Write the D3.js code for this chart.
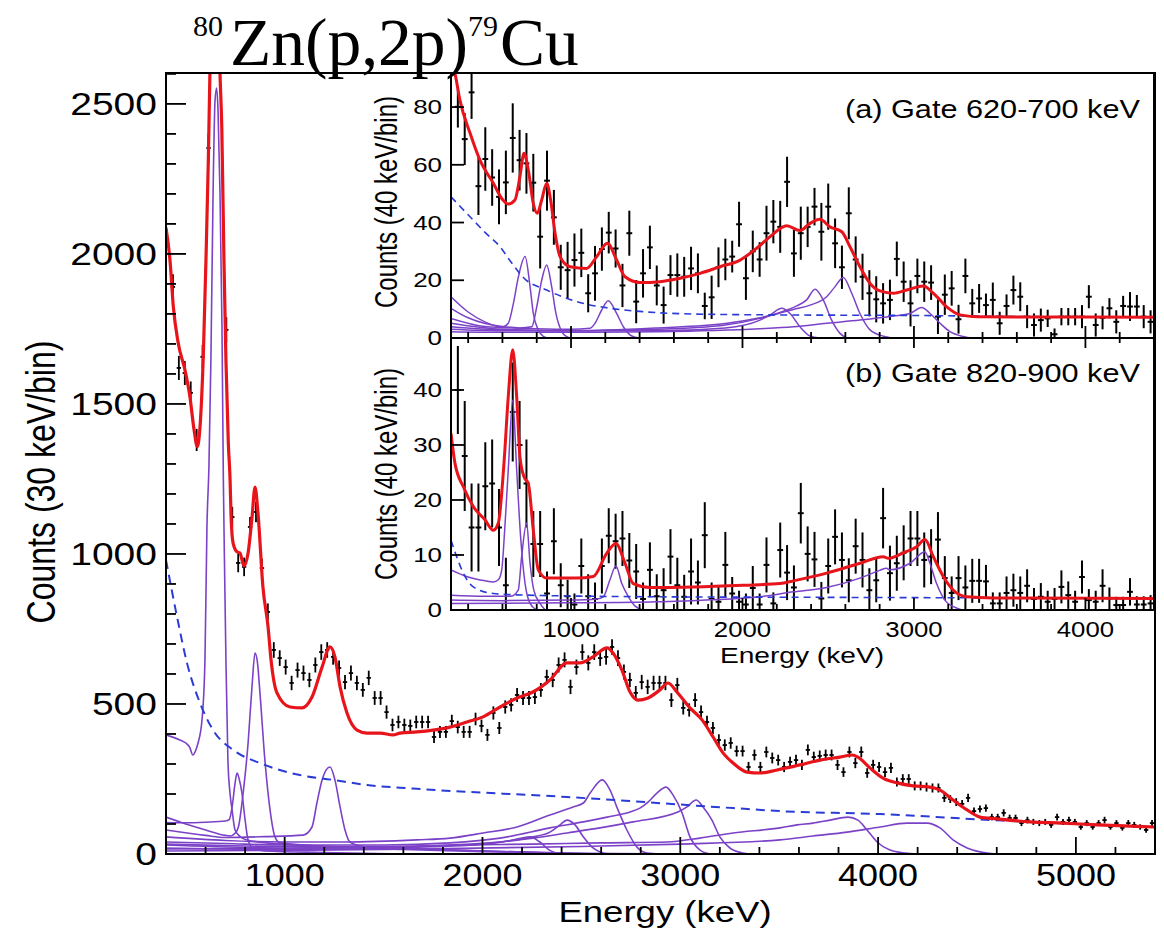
<!DOCTYPE html>
<html><head><meta charset="utf-8">
<script src="https://cdn.jsdelivr.net/npm/d3@7"></script>
<style>body{margin:0;background:#fff}svg{display:block}</style>
</head><body>
<svg id="c" width="1164" height="931"></svg>
<script>
// ---------------- DATA ----------------
const titleParts = ["80", "Zn(p,2p)", "79", "Cu"];
const mainXTicks = [1000, 2000, 3000, 4000, 5000];
const mainYTicks = [0, 500, 1000, 1500, 2000, 2500];
const insetXTicks = [1000, 2000, 3000, 4000];
const insetAYTicks = [0, 20, 40, 60, 80];
const insetBYTicks = [0, 10, 20, 30, 40];
const mainXLabel = "Energy (keV)", mainYLabel = "Counts (30 keV/bin)";
const insetXLabel = "Energy (keV)", insetYLabel = "Counts (40 keV/bin)";
const gateA = "(a) Gate 620-700 keV", gateB = "(b) Gate 820-900 keV";

// main spectrum: [energy keV, counts, error]
const mainPoints = [[435,1890,42],[465,1620,40],[495,1603,40],[525,1537,38],[555,1380,37],[585,1657,40],[615,2353,48],[705,1747,42],[735,1123,34],[765,970,31],[795,957,31],[825,1090,33],[855,1140,34],[885,953,31],[915,807,28],[945,680,26],[975,653,26],[1005,623,25],[1035,570,24],[1065,613,25],[1095,603,25],[1125,580,24],[1155,630,25],[1185,673,26],[1215,680,26],[1245,657,26],[1275,620,25],[1305,573,24],[1335,603,25],[1365,570,24],[1395,547,23],[1425,587,24],[1455,520,23],[1485,520,23],[1515,473,22],[1545,430,21],[1575,440,21],[1605,430,21],[1635,427,21],[1665,440,21],[1695,440,21],[1725,440,21],[1755,390,20],[1785,407,20],[1815,407,20],[1845,443,21],[1875,423,21],[1905,407,20],[1935,407,20],[1965,450,21],[1995,427,21],[2025,397,20],[2055,470,22],[2085,420,20],[2115,490,22],[2145,497,22],[2175,530,23],[2205,520,23],[2235,520,23],[2265,523,23],[2295,547,23],[2325,590,24],[2355,580,24],[2385,630,25],[2415,647,25],[2445,557,24],[2475,623,25],[2505,673,26],[2535,637,25],[2565,673,26],[2595,653,26],[2625,657,26],[2655,690,26],[2685,653,26],[2715,607,25],[2745,580,24],[2775,537,23],[2805,573,24],[2835,557,24],[2865,570,24],[2895,570,24],[2925,570,24],[2955,513,23],[2985,563,24],[3015,487,22],[3045,480,22],[3075,513,23],[3105,473,22],[3135,440,21],[3165,420,20],[3195,380,19],[3225,363,19],[3255,370,19],[3285,343,18],[3315,343,18],[3345,290,17],[3375,330,18],[3405,290,17],[3435,340,18],[3465,320,18],[3495,313,18],[3525,290,17],[3555,307,17],[3585,313,18],[3615,297,17],[3645,347,18],[3675,323,18],[3705,327,18],[3735,330,18],[3765,330,18],[3795,297,17],[3825,273,16],[3855,340,18],[3885,303,17],[3915,340,18],[3945,270,16],[3975,297,17],[4005,290,17],[4035,273,16],[4065,287,17],[4095,240,15],[4125,250,16],[4155,250,16],[4185,227,15],[4215,227,15],[4245,223,15],[4275,220,15],[4305,220,15],[4335,187,14],[4365,183,13],[4395,173,13],[4425,167,13],[4455,187,14],[4485,143,12],[4515,150,12],[4545,153,12],[4575,123,11],[4605,123,11],[4635,137,12],[4665,120,11],[4695,120,11],[4725,103,10],[4755,113,11],[4785,107,10],[4815,103,10],[4845,107,10],[4875,97,10],[4905,123,11],[4935,107,10],[4965,113,11],[4995,107,10],[5025,90,9],[5055,103,10],[5085,90,9],[5115,103,10],[5145,113,11],[5175,90,9],[5205,103,10],[5235,87,9],[5265,103,10],[5295,97,10],[5325,90,9],[5355,80,9],[5385,103,10]];

const mainFit = [[400,2087],[420,1980],[437,1824],[462,1702],[496,1613],[521,1524],[542,1413],[558,1358],[572,1424],[589,1669],[602,1980],[614,2313],[622,2602],[640,3100],[655,3150],[673,2600],[682,2424],[693,1980],[703,1647],[715,1370],[724,1247],[729,1124],[739,1037],[759,1007],[774,1003],[794,960],[815,1003],[835,1123],[850,1223],[865,1137],[890,890],[916,757],[931,647],[961,537],[1027,490],[1088,487],[1138,523],[1189,623],[1229,690],[1254,657],[1280,557],[1315,470],[1366,413],[1416,403],[1482,403],[1548,397],[1583,403],[1669,407],[1750,413],[1836,423],[1922,440],[2003,457],[2089,490],[2175,520],[2255,540],[2341,580],[2427,637],[2493,637],[2559,657],[2630,687],[2660,670],[2705,613],[2746,540],[2786,513],[2837,520],[2897,547],[2938,570],[2983,540],[3049,487],[3110,447],[3166,390],[3216,337],[3267,303],[3337,273],[3403,270],[3489,280],[3605,297],[3706,313],[3807,323],[3868,330],[3898,323],[3959,287],[4025,253],[4096,237],[4177,227],[4262,223],[4313,213],[4379,180],[4450,147],[4515,123],[4601,117],[4768,107],[4935,103],[5107,97],[5273,93],[5400,90]];

const mainBackground = [[400,980],[456,790],[506,637],[572,503],[638,413],[739,347],[875,303],[1077,263],[1244,247],[1416,230],[1649,218],[2427,190],[3267,153],[3504,143],[4010,133],[4581,113],[5000,100],[5400,90]];

const main653 = [[400,397],[470,380],[500,370],[520,355],[536,330],[550,345],[562,370],[582,447],[597,647],[607,1090],[617,1290],[627,1647],[638,2203],[648,2513],[656,2553],[663,2480],[673,2203],[683,1757],[690,1247],[695,1000],[703,647],[713,313],[724,200],[734,147],[749,80],[780,55],[810,47],[910,37],[1200,25],[1600,15],[2000,8],[2500,2],[3000,0]];
const main759 = [[400,105],[500,104],[600,106],[700,110],[720,115],[735,160],[748,230],[759,270],[770,250],[784,203],[800,113],[815,47],[840,20],[900,10],[1200,5],[1600,0]];
const main850 = [[400,123],[500,100],[600,80],[700,62],[724,60],[750,70],[766,90],[790,203],[815,370],[835,560],[850,670],[862,640],[875,537],[900,313],[926,147],[951,57],[976,37],[1100,30],[1500,20],[2000,10],[2600,0]];
const main1229 = [[400,80],[600,62],[700,55],[900,58],[1093,63],[1138,90],[1163,170],[1189,247],[1229,290],[1254,247],[1280,157],[1305,80],[1330,40],[1400,25],[1800,15],[2500,0]];
const main2230 = [[400,20],[1000,15],[1800,25],[2100,40],[2200,53],[2240,57],[2290,40],[2340,12],[2400,0]];
const main2427 = [[400,30],[1000,20],[1922,30],[2089,40],[2255,57],[2341,73],[2392,97],[2427,113],[2468,97],[2510,57],[2554,23],[2594,7],[2640,0]];
const main2606 = [[400,57],[700,45],[1000,40],[1300,40],[1669,47],[1836,53],[2003,70],[2175,90],[2341,130],[2458,157],[2510,170],[2544,203],[2606,247],[2645,213],[2685,147],[2730,80],[2781,23],[2832,3],[2900,0]];
const main2928 = [[400,40],[700,35],[1000,30],[1500,30],[1836,37],[2089,53],[2341,87],[2510,107],[2630,123],[2746,140],[2796,153],[2837,173],[2882,203],[2928,223],[2963,197],[3009,137],[3049,57],[3100,13],[3150,0]];
const main3080 = [[400,33],[700,28],[1000,25],[1500,25],[2089,40],[2255,53],[2427,70],[2594,87],[2761,107],[2988,140],[3034,157],[3080,180],[3115,157],[3160,113],[3200,57],[3251,20],[3317,3],[3350,0]];
const main3848 = [[400,17],[1000,18],[1500,22],[1922,30],[2255,33],[2594,37],[2933,40],[3100,53],[3267,70],[3504,87],[3590,97],[3671,103],[3757,113],[3848,123],[3898,113],[3944,80],[3995,40],[4060,13],[4136,3],[4200,0]];
const main4247 = [[400,10],[1000,12],[1500,15],[2500,25],[3000,33],[3504,47],[3671,60],[3843,73],[4010,90],[4146,103],[4247,103],[4313,87],[4379,47],[4450,20],[4551,3],[4600,0]];

// inset (a): [energy, counts, error]
const gateAPoints = [[340,80.1,7.2],[380,68.9,9],[420,85.1,9.2],[460,52.6,10],[500,62,11],[540,55.6,9.8],[580,48.9,9.5],[620,53.9,11],[660,69.3,12],[700,61.6,10.5],[740,60.5,10.5],[780,53.8,10],[820,35.1,11],[860,54.5,10.4],[900,41.8,9.5],[940,24.5,7.8],[980,23.5,9.8],[1020,27,9.2],[1060,29.5,8.4],[1100,15.5,6.6],[1140,22.4,9.5],[1180,30.8,7.5],[1220,36.5,7.2],[1260,31,6.6],[1300,18.2,7.5],[1340,36.3,7.8],[1380,12.6,7.5],[1420,22.4,8.4],[1460,31.4,7.5],[1500,18.2,6.9],[1540,11.4,6.4],[1580,21.8,6.9],[1620,21.8,7.5],[1660,21.2,6.9],[1700,24.1,7.5],[1740,22.4,6.9],[1780,11.1,4.6],[1820,14.1,7.5],[1860,24.5,6.9],[1900,27.2,7.2],[1940,28.2,5.5],[1980,39.4,7.8],[2020,20.7,7.5],[2060,30,7.2],[2100,27.2,6],[2140,36.3,9.5],[2180,40.3,7.5],[2220,38.5,9],[2260,54.1,8.7],[2300,29.3,8.1],[2340,36.3,9.2],[2380,38.5,7],[2420,45.5,6.5],[2460,36.8,10],[2500,45.5,8],[2540,32.8,8.6],[2580,24.5,7.5],[2620,43.2,9],[2660,27.2,8],[2700,21.2,8],[2740,15.5,8],[2780,13.4,8],[2820,12,7],[2860,13.2,7],[2900,27.4,6],[2940,19.5,7],[2980,12,8],[3020,21.5,6],[3060,19.5,7],[3100,19.2,6],[3140,7.4,6],[3180,15,7],[3220,17.2,6],[3260,6.5,5],[3300,21.5,6],[3340,12,5],[3380,13.7,5],[3420,11.4,4],[3460,13.2,6],[3500,5.1,4],[3540,11.1,4],[3580,16.6,5],[3620,14.3,5],[3660,7.4,4],[3700,4.5,4],[3740,6.2,4],[3780,6.8,3],[3820,1.3,2],[3860,7.4,3],[3900,7.4,3],[3940,7.4,3],[3980,7.4,4],[4020,14.3,4],[4060,4.5,4],[4100,7,4],[4140,10.3,3.5],[4180,5.6,4],[4220,11.1,3.5],[4260,10.9,5],[4300,10.9,4],[4340,7.4,4],[4380,5.6,4]];
const gateAFit = [[300,96],[323,91.7],[352,82.4],[411,71],[469,61.6],[547,53.6],[600,48],[634,46.4],[673,47.8],[702,55.9],[726,64],[751,58.2],[780,46.6],[803,43.2],[829,47.8],[858,53.6],[881,47.8],[907,36.3],[936,28.2],[994,24.7],[1091,24.1],[1150,28.2],[1212,32.8],[1266,27],[1315,21.2],[1402,19.2],[1519,19.5],[1636,20.7],[1752,22.4],[1869,24.7],[1986,27],[2083,31.1],[2161,35.1],[2258,38.9],[2335,37.2],[2394,39.7],[2452,41.1],[2510,38.5],[2579,36.8],[2627,31.6],[2685,24.7],[2744,18.9],[2802,16.3],[2880,15.5],[2958,16.6],[3055,18],[3113,15.5],[3191,10.8],[3269,8],[3366,7.4],[3600,7.3],[4000,7.3],[4400,7.2]];
const gateABackground = [[300,48.9],[411,42],[500,36.5],[586,31.6],[650,26.3],[726,20.7],[858,16.6],[1033,12.6],[1227,10.3],[1422,9.1],[1713,8.3],[2200,8],[3000,7.8],[3500,7.5],[4400,7.2]];
const gateA726 = [[300,14.3],[400,9],[500,5.5],[600,3.8],[634,5.1],[664,12],[693,21.2],[732,28.2],[761,17.8],[780,8.5],[809,2.8],[838,0.6],[870,0]];
const gateA858 = [[300,10.3],[400,7],[500,5],[600,4],[700,3.5],[771,3.9],[800,10.8],[829,20],[858,25.3],[887,17.8],[912,8.5],[946,2.2],[975,0.5],[1000,0]];
const gateA1217 = [[300,6.8],[500,4],[800,3.2],[1000,3],[1111,3.4],[1140,5.1],[1179,9.7],[1217,12.9],[1266,8.5],[1305,3.9],[1354,0.7],[1400,0]];
const gateA2229 = [[300,5.1],[600,3],[1000,2.5],[1500,2.5],[1900,3.5],[2102,6.2],[2161,8],[2229,10.3],[2277,8.5],[2335,3.9],[2394,0.7],[2450,0]];
const gateA2423 = [[300,3.9],[600,2.8],[1000,2.5],[1500,3],[1900,4.5],[2102,6.8],[2200,8.5],[2316,11.1],[2374,13.2],[2423,16.9],[2471,13.2],[2520,6.2],[2569,1.6],[2607,0]];
const gateA2588 = [[300,3],[600,2.5],[1000,2.5],[1500,3.5],[1900,5],[2102,7],[2200,8.3],[2297,9.9],[2394,11.4],[2491,14.3],[2540,17.8],[2588,21],[2637,15.5],[2685,8.5],[2744,2.8],[2822,0.6],[2870,0]];
const gateA3045 = [[300,2.2],[600,2],[1000,2],[1500,2.2],[2102,3.2],[2297,3.9],[2491,5.1],[2685,6.2],[2880,7.6],[2977,8.5],[3045,10.6],[3094,8.5],[3152,5.1],[3210,2.2],[3288,0.5],[3330,0]];

// inset (b): [energy, counts, error]
const gateBPoints = [[340,40,8],[380,28,10],[420,15,8],[460,15,8],[500,22.5,8],[540,23,8],[580,15,7],[620,4.5,5],[660,36,9],[700,30,8],[740,23,8],[780,12,6],[820,12,6],[860,3,4],[900,12.5,6],[940,4.5,4],[980,2.5,3],[1020,1,2],[1060,8,5],[1100,2.5,4],[1140,2,3],[1180,8,5],[1220,13.5,5],[1260,12.5,5],[1300,13,5],[1340,9,5],[1380,7,5],[1420,2,3],[1460,7.3,5],[1500,2.5,4],[1540,3.6,4],[1580,9.7,5],[1620,4.5,5],[1660,2.4,4],[1700,7,6],[1740,5,4],[1780,13.6,6],[1820,2,3],[1860,1.5,3],[1900,8.2,6],[1940,3,3],[1980,1.5,2],[2020,1,2],[2060,4,4],[2100,1,2],[2140,8.2,5],[2180,1.2,2],[2220,10.9,5],[2260,6.8,5],[2300,4.1,4],[2340,17.6,5.5],[2380,10.2,5],[2420,9.2,5],[2460,2.1,3],[2500,8,5],[2540,13.3,5],[2580,9.1,5],[2620,5.4,4],[2660,11.6,5],[2700,9.1,5],[2740,3.6,4],[2780,5.4,4],[2820,16.7,5.5],[2860,6.7,5],[2900,8.5,5],[2940,10.4,5],[2980,13,5],[3020,13,5],[3060,9.1,5],[3100,9.7,5],[3140,12.8,5],[3180,5.8,4],[3220,3.1,3],[3260,5.8,4],[3300,4.1,4],[3340,5.3,4],[3380,5.3,4],[3420,5.2,3],[3460,1.2,2],[3500,1.2,2],[3540,3.1,3],[3580,3.6,3],[3620,3.1,3],[3660,4.4,3],[3700,2,2],[3740,2.4,2.5],[3780,1.5,2],[3820,2,2],[3860,4.2,3],[3900,2.7,2.5],[3940,1.5,2],[3980,6,3],[4020,1.8,2],[4060,1.5,2],[4100,4.4,3],[4140,2.1,2],[4180,0.9,1.5],[4220,0.9,1.5],[4260,3.3,2.5],[4300,1,1.5],[4340,1,1.5],[4380,1.2,1.5]];
const gateBFit = [[300,32.1],[323,26.7],[372,22.4],[430,18.8],[498,16.4],[547,14.5],[576,15.8],[609,26.7],[634,38.8],[660,47.3],[683,38.8],[702,27.9],[726,24.2],[751,23],[780,14.5],[809,7.3],[858,5.8],[1033,5.8],[1130,6.1],[1208,10.3],[1262,12.1],[1315,8.5],[1363,4.8],[1461,4.1],[1713,4.2],[2005,4.5],[2219,4.8],[2297,5.3],[2491,6.7],[2685,8.5],[2821,9.7],[2850,9.4],[2938,10.4],[3016,11.5],[3064,12.8],[3113,9.7],[3171,6.1],[3230,3.6],[3308,2.4],[3463,2.2],[4400,2.1]];
const gateBBackground = [[300,12.7],[333,9.7],[372,6.7],[430,4.2],[547,3],[741,2.7],[1500,2.4],[2500,2.3],[4400,2.1]];
const gateB660 = [[300,7.3],[400,6],[500,5.3],[547,5.1],[576,5.5],[596,7.3],[613,14.5],[634,25.5],[660,38.2],[683,25.5],[706,13.3],[732,4.8],[761,1.2],[800,0]];
const gateB741 = [[300,2.7],[500,2.5],[650,2.5],[692,3.6],[712,9.7],[741,15.8],[761,8.5],[783,3.6],[819,1.2],[850,0]];
const gateB1262 = [[300,1.8],[600,1.7],[1000,1.8],[1150,2],[1188,2.4],[1227,5.5],[1262,8],[1296,4.8],[1335,2.4],[1374,0.7],[1420,0]];
const gateB3064 = [[300,1.2],[1000,1.3],[1500,1.5],[2102,2.4],[2297,3.3],[2491,4.1],[2685,5.8],[2800,7.2],[2840,7.6],[2860,7.3],[2977,8.5],[3064,10.6],[3093,8.5],[3132,4.8],[3180,1.8],[3230,0.6],[3280,0]];

// ---------------- DRAWING ----------------
const RED = "#e8141b", PURPLE = "#7b42c8", BLUE = "#2a3bd6";
const SANS = "'Liberation Sans', Arial, Helvetica, sans-serif";
const svg = d3.select("#c");
svg.append("rect").attr("width",1164).attr("height",931).attr("fill","#fff");
const defs = svg.append("defs");

function stext(parent, str, o) {
  const g = parent.append("g").attr("transform",
    `translate(${o.x},${o.y}) scale(${o.sx || 1},1)` + (o.rot ? ` rotate(${o.rot})` : ""));
  return g.append("text").attr("text-anchor", o.anchor || "start")
    .attr("font-family", o.family || SANS).attr("font-size", o.size)
    .attr("fill", "#000").text(str);
}
function clip(id, x, y, w, h) {
  defs.append("clipPath").attr("id", id).append("rect")
    .attr("x", x).attr("y", y).attr("width", w).attr("height", h);
}
function drawCurve(g, data, xs, ys, color, width, dash) {
  const line = d3.line().x(d => xs(d[0])).y(d => ys(d[1])).curve(d3.curveMonotoneX);
  g.append("path").attr("d", line(data)).attr("fill", "none")
    .attr("stroke", color).attr("stroke-width", width)
    .attr("stroke-dasharray", dash || null).attr("stroke-linejoin","round");
}
function drawPoints(g, data, xs, ys, hw, sw) {
  const pg = g.append("g").attr("stroke", "#000").attr("stroke-width", sw);
  data.forEach(d => {
    pg.append("line").attr("x1", xs(d[0])).attr("x2", xs(d[0]))
      .attr("y1", ys(d[1] - d[2])).attr("y2", ys(d[1] + d[2]));
    pg.append("line").attr("x1", xs(d[0] - hw)).attr("x2", xs(d[0] + hw))
      .attr("y1", ys(d[1])).attr("y2", ys(d[1]));
  });
}

// ---- main plot ----
const M = {l:166, r:1155, t:73, b:854};
const xM = d3.scaleLinear().domain([400, 5400]).range([M.l, M.r]);
const yM = d3.scaleLinear().domain([0, 2603]).range([M.b, M.t]);
clip("cm", M.l, M.t, M.r - M.l, M.b - M.t);
const gm = svg.append("g").attr("clip-path", "url(#cm)");
[main653, main759, main850, main1229, main2230, main2427, main2606, main2928, main3080, main3848, main4247]
  .forEach(c => drawCurve(gm, c, xM, yM, PURPLE, 1.6));
drawCurve(gm, mainBackground, xM, yM, BLUE, 2, "9,6");
drawPoints(gm, mainPoints, xM, yM, 11, 1.8);
drawCurve(gm, mainFit, xM, yM, RED, 3.2);

// main axes ticks
const ax = svg.append("g").attr("stroke", "#000");
d3.range(0, 2601, 100).forEach(v => {
  const major = v % 500 === 0;
  ax.append("line").attr("x1", M.l).attr("x2", M.l + (major ? 20 : 10))
    .attr("y1", yM(v)).attr("y2", yM(v)).attr("stroke-width", 1.8);
});
d3.range(400, 5401, 200).forEach(v => {
  const major = v % 1000 === 0;
  ax.append("line").attr("x1", xM(v)).attr("x2", xM(v))
    .attr("y1", M.b).attr("y2", M.b - (major ? 17 : 7)).attr("stroke-width", 1.8);
});
svg.append("rect").attr("x", M.l).attr("y", M.t).attr("width", M.r - M.l).attr("height", M.b - M.t)
  .attr("fill", "none").attr("stroke", "#000").attr("stroke-width", 2);
mainYTicks.forEach(v => stext(svg, String(v), {x:157, y:yM(v) + 11, size:30.5, sx:1.28, anchor:"end"}));
mainXTicks.forEach(v => stext(svg, String(v), {x:xM(v), y:886, size:31, sx:1.16, anchor:"middle"}));
stext(svg, mainXLabel, {x:665, y:922, size:29, sx:1.26, anchor:"middle"});
stext(svg, mainYLabel, {x:55, y:482, size:32, sx:1.28, anchor:"middle", rot:-90});

// ---- insets ----
const I = {l:451, r:1154, ta:73, ba:338, tb:338, bb:610};
const xI = d3.scaleLinear().domain([300, 4400]).range([I.l, I.r]);
const yA = d3.scaleLinear().domain([0, 91.8]).range([I.ba, I.ta]);
const yB = d3.scaleLinear().domain([0, 49.45]).range([I.bb, I.tb]);
svg.append("rect").attr("x", I.l).attr("y", I.ta).attr("width", I.r - I.l).attr("height", I.bb - I.ta).attr("fill", "#fff");
clip("ca", I.l, I.ta, I.r - I.l, I.ba - I.ta);
clip("cb", I.l, I.tb, I.r - I.l, I.bb - I.tb);
const ga = svg.append("g").attr("clip-path", "url(#ca)");
drawPoints(ga, gateAPoints, xI, yA, 17, 2);
[gateA726, gateA858, gateA1217, gateA2229, gateA2423, gateA2588, gateA3045]
  .forEach(c => drawCurve(ga, c, xI, yA, PURPLE, 1.5));
drawCurve(ga, gateABackground, xI, yA, BLUE, 1.6, "7,5");
drawCurve(ga, gateAFit, xI, yA, RED, 3);
const gb = svg.append("g").attr("clip-path", "url(#cb)");
drawPoints(gb, gateBPoints, xI, yB, 17, 2);
[gateB660, gateB741, gateB1262, gateB3064].forEach(c => drawCurve(gb, c, xI, yB, PURPLE, 1.5));
drawCurve(gb, gateBBackground, xI, yB, BLUE, 1.6, "7,5");
drawCurve(gb, gateBFit, xI, yB, RED, 3);

const ix = svg.append("g").attr("stroke", "#000").attr("stroke-width", 1.8);
d3.range(400, 4401, 200).forEach(v => {
  const major = v % 1000 === 0;
  ix.append("line").attr("x1", xI(v)).attr("x2", xI(v)).attr("y1", I.ba).attr("y2", I.ba - (major ? 12 : 6));
  ix.append("line").attr("x1", xI(v)).attr("x2", xI(v)).attr("y1", I.tb).attr("y2", I.tb + (major ? 10 : 5));
  ix.append("line").attr("x1", xI(v)).attr("x2", xI(v)).attr("y1", I.bb).attr("y2", I.bb - (major ? 12 : 6));
});
insetAYTicks.forEach(v => ix.append("line").attr("x1", I.l).attr("x2", I.l + 13).attr("y1", yA(v)).attr("y2", yA(v)));
insetBYTicks.forEach(v => ix.append("line").attr("x1", I.l).attr("x2", I.l + 13).attr("y1", yB(v)).attr("y2", yB(v)));
[[I.ta, I.ba], [I.tb, I.bb]].forEach(([t, b]) =>
  svg.append("rect").attr("x", I.l).attr("y", t).attr("width", I.r - I.l).attr("height", b - t)
    .attr("fill", "none").attr("stroke", "#000").attr("stroke-width", 2));
insetAYTicks.forEach(v => stext(svg, String(v), {x:442, y:yA(v) + 7, size:19.5, sx:1.33, anchor:"end"}));
insetBYTicks.forEach(v => stext(svg, String(v), {x:442, y:yB(v) + 7, size:19.5, sx:1.33, anchor:"end"}));
insetXTicks.forEach(v => stext(svg, String(v), {x:xI(v), y:637, size:23, sx:1.12, anchor:"middle"}));
stext(svg, insetXLabel, {x:802, y:663, size:22, sx:1.28, anchor:"middle"});
stext(svg, insetYLabel, {x:397, y:202, size:24, sx:1.27, anchor:"middle", rot:-90});
stext(svg, insetYLabel, {x:397, y:474, size:24, sx:1.27, anchor:"middle", rot:-90});
stext(svg, gateA, {x:845, y:117.5, size:26, sx:1.18});
stext(svg, gateB, {x:845, y:382, size:26, sx:1.18});

// ---- title ----
const tg = svg.append("g").attr("transform", "translate(193,65)");
const tt = tg.append("text").attr("font-family", "'Liberation Serif', 'Times New Roman', serif")
  .attr("font-size", 67.5).attr("fill", "#000");
tt.append("tspan").attr("font-size", 30).attr("dy", -29).text(titleParts[0]);
tt.append("tspan").attr("dy", 29).attr("dx", 7).text(titleParts[1]);
tt.append("tspan").attr("font-size", 30).attr("dy", -29).text(titleParts[2]);
tt.append("tspan").attr("dy", 29).attr("dx", 2).text(titleParts[3]);
</script>
</body></html>
